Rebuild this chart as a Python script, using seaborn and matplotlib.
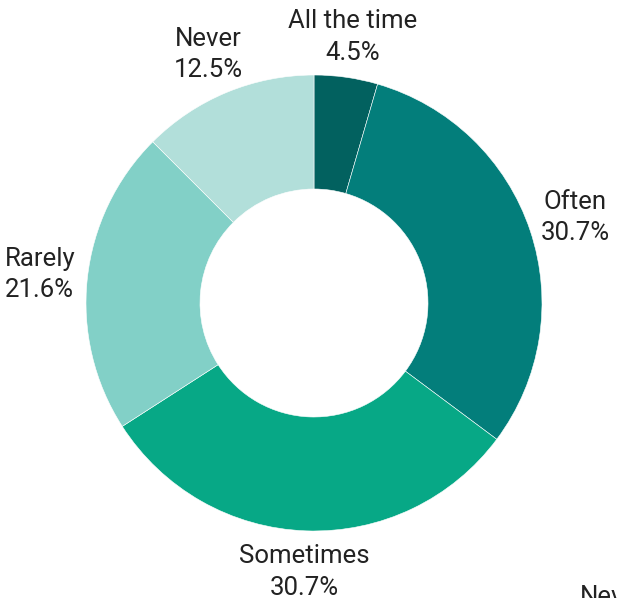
import matplotlib
matplotlib.use('Agg')
from matplotlib import pyplot as plt
import seaborn as sn

categories = ['All the time', 'Often', 'Sometimes', 'Rarely', 'Never']
shares = [4.5, 30.7, 30.7, 21.6, 12.5]
colors = ['#02615f', '#037e7b', '#07a886', '#82d0c7', '#b2dfda']

sn.set_style('white')
plt.rcParams['font.family'] = ['Roboto', 'DejaVu Sans']

fig = plt.figure(figsize=(6.17, 5.98), dpi=100)
ax = fig.add_axes([0, 0, 1, 1])

labels = [f'{c}\n{v}%' for c, v in zip(categories, shares)]
wedges, texts = ax.pie(shares, labels=labels, colors=colors, startangle=90, counterclock=False,
                       labeldistance=1.21, radius=1.0,
                       wedgeprops=dict(width=0.5, edgecolor='white', linewidth=0.4),
                       textprops=dict(fontsize=18.5, color='#222222', linespacing=1.4))
for t in texts:
    t.set_ha('center')
    t.set_va('center')
    # labels sit a bit closer above/below the ring than at the sides
    x, y = t.get_position()
    t.set_position((x, y * 0.975))

# 1 data unit = 228 px, centre at (314, 303) from top-left
ax.set_aspect('auto')
ax.set_xlim(-314 / 228, (617 - 314) / 228)
ax.set_ylim(-(598 - 303) / 228, 303 / 228)
ax.axis('off')

# legend entry cut off at the bottom right edge (as in the source image)
fig.text(580 / 617, 1 - 597 / 598, 'Never', fontsize=18.5, color='#222222', ha='left', va='center')

plt.savefig('out.png', dpi=100)
